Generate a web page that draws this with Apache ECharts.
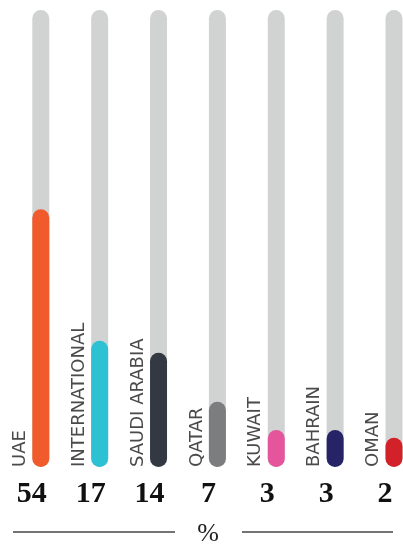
<!DOCTYPE html>
<html><head><meta charset="utf-8">
<script src="https://cdn.jsdelivr.net/npm/echarts@6/dist/echarts.min.js"></script>
<style>html,body{margin:0;padding:0;background:#fff}#c{width:403px;height:550px}</style>
</head><body><div id="c"></div>
<script>
// Categories (countries), shown as rotated labels beside each bar
const countries = ['UAE', 'INTERNATIONAL', 'SAUDI ARABIA', 'QATAR', 'KUWAIT', 'BAHRAIN', 'OMAN'];
// Percent shares printed under the bars
const shares = [54, 17, 14, 7, 3, 3, 2];
// Bar lengths as drawn in the picture, in % of the full grey track
const barLengths = [56.4, 27.6, 25.0, 14.3, 8.1, 8.1, 6.4];
// Full track (100 % of track length)
const trackLengths = [100, 100, 100, 100, 100, 100, 100];
const barColors = ['#f15a2b', '#2cc1d3', '#323943', '#7b7d7e', '#e4559b', '#262467', '#d32129'];

const chart = echarts.init(document.getElementById('c'), null, {renderer: 'canvas'});
chart.setOption({
  animation: false,
  grid: {left: 40.8, right: 9, top: 10, bottom: 83, containLabel: false, outerBoundsMode: 'none'},
  xAxis: {
    type: 'category',
    data: countries,
    boundaryGap: false,
    axisLine: {show: false},
    axisTick: {show: false},
    axisLabel: {
      margin: 12,
      interval: 0,
      hideOverlap: false,
      formatter: (v, i) => String(shares[i]),
      fontFamily: 'Liberation Serif',
      fontWeight: 'bold',
      fontSize: 30,
      lineHeight: 30,
      color: '#111',
      padding: [0, 18, 0, 0]
    }
  },
  yAxis: {type: 'value', min: 0, max: 100, show: false},
  series: [
    {
      type: 'bar',
      data: trackLengths,
      barWidth: 17,
      barGap: '-100%',
      itemStyle: {color: '#d1d3d2', borderRadius: 8.5},
      silent: true,
      z: 1
    },
    {
      type: 'bar',
      data: barLengths.map((v, i) => ({value: v, itemStyle: {color: barColors[i]}})),
      barWidth: 17,
      itemStyle: {borderRadius: 8.5},
      z: 2,
      label: {
        show: true,
        formatter: p => countries[p.dataIndex],
        position: [-3, '100%'],
        rotate: 90,
        align: 'left',
        verticalAlign: 'bottom',
        fontFamily: 'DejaVu Sans',
        fontSize: 18,
        color: '#4a4a4a'
      }
    }
  ],
  graphic: [
    {type: 'line', shape: {x1: 13, y1: 532, x2: 175, y2: 532}, style: {stroke: '#444', lineWidth: 1.3}},
    {type: 'line', shape: {x1: 242, y1: 532, x2: 393, y2: 532}, style: {stroke: '#444', lineWidth: 1.3}},
    {type: 'text', x: 208, y: 534, style: {text: '%', fontFamily: 'Liberation Serif', fontSize: 26, fill: '#222', align: 'center', verticalAlign: 'middle'}}
  ]
});
</script></body></html>
